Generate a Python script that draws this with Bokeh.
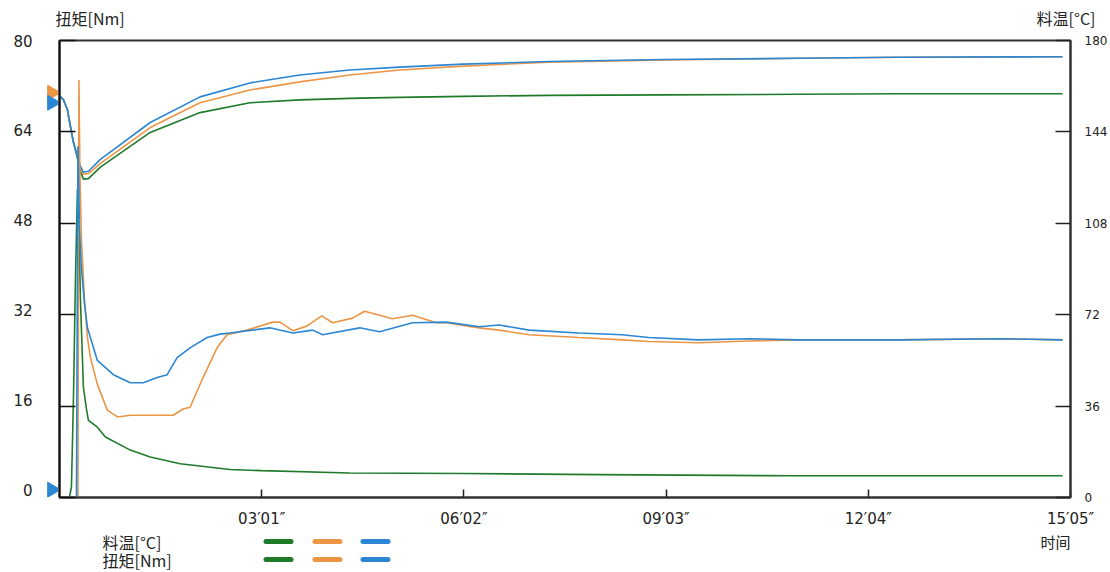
import numpy as np
from bokeh.plotting import figure
from bokeh.models import Range1d, LinearAxis, FixedTicker
from bokeh.layouts import column, row
from bokeh.embed import file_html
from bokeh.resources import INLINE
from bokeh.core.properties import value

# ---------------- data ----------------
series_colors = ["#1f7a2a", "#eb9545", "#2b86d4"]   # green, orange, blue

# material temperature [°C]
temp_time = [0, 3.6, 7.1, 9.8, 12.5, 16.1, 18.7, 21.4, 25.9, 36.6, 81.2, 125.8,
             170.5, 215.1, 259.7, 304.4, 361.5, 438.2, 541.8, 661.4, 750.6, 897.9]
temp_green = [158.2, 156.6, 152.7, 146.1, 139.8, 133.5, 128.5, 125.4, 125.6, 130.1, 143.8, 151.6,
              155.5, 156.6, 157.2, 157.6, 158.0, 158.4, 158.6, 158.8, 159.0, 159.0]
temp_orange = [158.2, 156.6, 152.7, 146.1, 139.8, 134.4, 130.1, 127.3, 127.6, 131.6, 145.7, 155.5,
               160.5, 163.7, 166.4, 168.4, 169.9, 171.5, 172.3, 173.0, 173.4, 173.6]
temp_blue = [158.2, 156.6, 152.7, 146.1, 139.8, 134.4, 130.5, 128.1, 128.5, 133.2, 147.7, 157.8,
             163.3, 166.4, 168.4, 169.5, 170.7, 171.7, 172.5, 173.0, 173.4, 173.6]

# torque [Nm]
tq_green_time = [0, 8.9, 10.7, 12.5, 14.3, 16.1, 17.4, 18.7, 20.5, 21.4, 24.1, 25.9, 33.9, 41.1,
                 63.4, 81.2, 108.0, 152.6, 181.2, 259.7, 361.5, 482.9, 661.4, 839.9, 897.9]
tq_green = [0, 0, 1.9, 17.5, 38.4, 54.0, 47.0, 34.9, 24.5, 19.3, 15.5, 13.5, 12.3, 10.6,
            8.3, 7.1, 5.9, 4.9, 4.7, 4.3, 4.2, 4.0, 3.8, 3.8, 3.8]

tq_orange_time = [0, 16.5, 17.4, 18.3, 19.6, 22.3, 25.0, 27.7, 33.9, 42.8, 51.8, 63.4, 92.8, 101.7,
                  110.7, 116.9, 128.5, 141.0, 149.9, 167.8, 191.0, 197.3, 208.9, 221.3, 234.7,
                  244.6, 262.4, 273.1, 286.5, 298.1, 316.0, 337.4, 346.3, 375.8, 393.6, 420.4,
                  465.0, 503.4, 527.5, 572.1, 616.7, 661.4, 750.6, 839.9, 897.9]
tq_orange = [0, 0, 73.1, 56.6, 45.3, 34.9, 28.0, 24.5, 19.8, 15.3, 14.1, 14.4, 14.4, 14.4,
             15.5, 15.8, 21.0, 26.2, 28.5, 29.3, 30.7, 30.7, 29.2, 30.0, 31.8,
             30.6, 31.4, 32.6, 31.9, 31.3, 31.9, 30.6, 30.6, 29.7, 29.3, 28.5,
             28.0, 27.6, 27.3, 27.1, 27.4, 27.6, 27.6, 27.8, 27.6]

tq_blue_time = [0, 15.2, 16.5, 17.9, 19.6, 22.3, 25.0, 33.9, 48.2, 63.4, 75.0, 87.5, 96.4, 105.3,
                116.9, 132.1, 143.7, 152.6, 188.3, 208.9, 226.7, 235.6, 268.7, 286.5, 316.0,
                346.3, 375.8, 393.6, 420.4, 465.0, 503.4, 527.5, 572.1, 616.7, 661.4, 750.6,
                839.9, 897.9]
tq_blue = [0, 0, 61.5, 47.0, 40.1, 34.0, 29.7, 24.0, 21.5, 20.1, 20.1, 21.0, 21.5, 24.5,
           26.2, 28.0, 28.6, 28.8, 29.7, 28.8, 29.3, 28.5, 29.7, 29.0, 30.6,
           30.7, 29.9, 30.2, 29.3, 28.8, 28.5, 28.0, 27.6, 27.8, 27.6, 27.6,
           27.8, 27.6]

x_ticks = [181, 362, 543, 724, 905]
x_tick_labels = ["03′01″", "06′02″", "09′03″", "12′04″", "15′05″"]
torque_ticks = [0, 16, 32, 48, 64, 80]
temp_ticks = [0, 36, 72, 108, 144, 180]

# cursor markers at the left edge (torque-axis units)
cursor_values = [70.7, 68.9, 0.0]
cursor_colors = [series_colors[1], series_colors[2], series_colors[2]]

torque_title = "扭矩[Nm]"
temp_title = "料温[°C]"
time_title = "时间"
row_labels = [temp_title, torque_title]

# ---------------- layout constants ----------------
T_MAX = 905
TQ_MAX = 80
TEMP_MAX = 180
TOTAL_W = 1110
TOP_H = 33          # title strip
MAIN_H = 497
LEG_H = 42
STRIP_W = 58        # left strip holding torque labels and cursor marks
STRIP_FRAME_LEFT = 44
MAIN_W = TOTAL_W - STRIP_W
M_TOP, M_BOTTOM, M_LEFT, M_RIGHT = 7, 29, 1, 37
frame_h = MAIN_H - M_TOP - M_BOTTOM
ppu = frame_h / TQ_MAX
S_BOTTOM = 21
strip_pad = (M_BOTTOM - S_BOTTOM) / ppu

NUM_FONT = "DejaVu Sans"
CJK_FONT = "Noto Sans CJK SC"
TXT = "#222222"
FRAME = "#333333"


def bare(fig):
    fig.grid.visible = False
    fig.outline_line_color = None
    fig.background_fill_color = "white"
    fig.border_fill_color = "white"


# ---------------- title strip ----------------
top = figure(width=TOTAL_W, height=TOP_H, x_range=Range1d(0, TOTAL_W), y_range=Range1d(TOP_H, 0),
             output_backend="svg", toolbar_location=None, min_border=0)
top.axis.visible = False
bare(top)
top.text(x=[55], y=[17], text=[torque_title], text_font=value(CJK_FONT), text_font_size="16px",
         text_baseline="middle", text_align="left", text_color=TXT)
top.text(x=[1095], y=[17], text=[temp_title], text_font=value(CJK_FONT), text_font_size="16px",
         text_baseline="middle", text_align="right", text_color=TXT)

# ---------------- left strip (torque labels + cursors) ----------------
strip = figure(width=STRIP_W, height=MAIN_H, x_range=Range1d(0, STRIP_W - STRIP_FRAME_LEFT),
               y_range=Range1d(-strip_pad, TQ_MAX), output_backend="svg", toolbar_location=None,
               min_border_left=STRIP_FRAME_LEFT, min_border_right=0, min_border_top=M_TOP,
               min_border_bottom=S_BOTTOM)
bare(strip)
strip.xaxis.visible = False
sa = strip.yaxis[0]
sa.ticker = FixedTicker(ticks=torque_ticks)
sa.bounds = (0, TQ_MAX)
sa.axis_line_color = None
sa.major_tick_line_color = None
sa.minor_tick_line_color = None
sa.major_tick_in = 0
sa.major_tick_out = 0
sa.minor_tick_in = 0
sa.minor_tick_out = 0
sa.major_label_standoff = 12
sa.major_label_text_font = NUM_FONT
sa.major_label_text_font_size = "15px"
sa.major_label_text_color = TXT
strip.scatter(x=[7.5] * len(cursor_values), y=cursor_values, marker="triangle",
              angle=-np.pi / 2, size=15, fill_color=cursor_colors, line_color=cursor_colors)

# ---------------- main chart ----------------
p = figure(width=MAIN_W, height=MAIN_H, x_range=Range1d(0, T_MAX), y_range=Range1d(0, TQ_MAX),
           output_backend="svg", toolbar_location=None, min_border_left=M_LEFT,
           min_border_right=M_RIGHT, min_border_top=M_TOP, min_border_bottom=M_BOTTOM)
p.extra_y_ranges = {"temp": Range1d(0, TEMP_MAX)}
p.grid.visible = False
p.background_fill_color = "white"
p.border_fill_color = "white"
p.outline_line_color = FRAME
p.outline_line_width = 2

ya = p.yaxis[0]
ya.ticker = FixedTicker(ticks=torque_ticks)
ya.major_tick_in = 16
ya.major_tick_out = 0
ya.minor_tick_in = 0
ya.minor_tick_out = 0
ya.major_label_standoff = 0
ya.major_label_text_font_size = "0px"
ya.major_label_overrides = {t: "" for t in torque_ticks}
ya.axis_line_width = 2
ya.axis_line_color = "#111111"
ya.major_tick_line_color = "#111111"
ya.major_tick_line_width = 1.5

xa = p.xaxis[0]
xa.ticker = FixedTicker(ticks=x_ticks)
xa.major_label_overrides = {t: l for t, l in zip(x_ticks, x_tick_labels)}
xa.major_tick_in = 8
xa.major_tick_out = 0
xa.minor_tick_in = 0
xa.minor_tick_out = 0
xa.major_label_standoff = 12
xa.axis_line_width = 2
xa.axis_line_color = FRAME
xa.major_tick_line_color = "#222222"
xa.major_tick_line_width = 1.5
xa.major_label_text_font = NUM_FONT
xa.major_label_text_font_size = "15px"
xa.major_label_text_color = TXT

ra = LinearAxis(y_range_name="temp", ticker=FixedTicker(ticks=temp_ticks),
                major_tick_in=15, major_tick_out=0, minor_tick_in=0, minor_tick_out=0,
                major_label_standoff=14, axis_line_width=2, axis_line_color=FRAME,
                major_tick_line_color="#222222", major_tick_line_width=1.5,
                major_label_text_font=NUM_FONT, major_label_text_font_size="12px",
                major_label_text_color=TXT)
p.add_layout(ra, "right")

for t_vals, c in zip([temp_green, temp_orange, temp_blue], series_colors):
    p.line(temp_time, t_vals, y_range_name="temp", line_color=c, line_width=1.6)

for tt, tv, c in zip([tq_green_time, tq_orange_time, tq_blue_time],
                     [tq_green, tq_orange, tq_blue], series_colors):
    p.line(tt, tv, line_color=c, line_width=1.6)

# ---------------- legend strip ----------------
lg = figure(width=TOTAL_W, height=LEG_H, x_range=Range1d(0, TOTAL_W), y_range=Range1d(LEG_H, 0),
            output_backend="svg", toolbar_location=None, min_border=0)
lg.axis.visible = False
bare(lg)
row_y = [11, 29]
lg.text(x=[102, 102], y=row_y, text=row_labels, text_font=value(CJK_FONT),
        text_font_size="16px", text_baseline="middle", text_color=TXT)
sw_x0 = [265.5, 314.5, 362.5]
sw_len = 25
x0s, x1s, ys, cs = [], [], [], []
for ry in row_y:
    for sx, c in zip(sw_x0, series_colors):
        x0s.append(sx)
        x1s.append(sx + sw_len)
        ys.append(ry)
        cs.append(c)
lg.segment(x0=x0s, y0=ys, x1=x1s, y1=ys, line_color=cs, line_width=5, line_cap="round")
lg.text(x=[1070], y=[11], text=[time_title], text_font=value(CJK_FONT), text_font_size="15px",
        text_baseline="middle", text_align="right", text_color=TXT)

layout = column(top, row(strip, p), lg)
open("out.html", "w").write(file_html(layout, INLINE))
